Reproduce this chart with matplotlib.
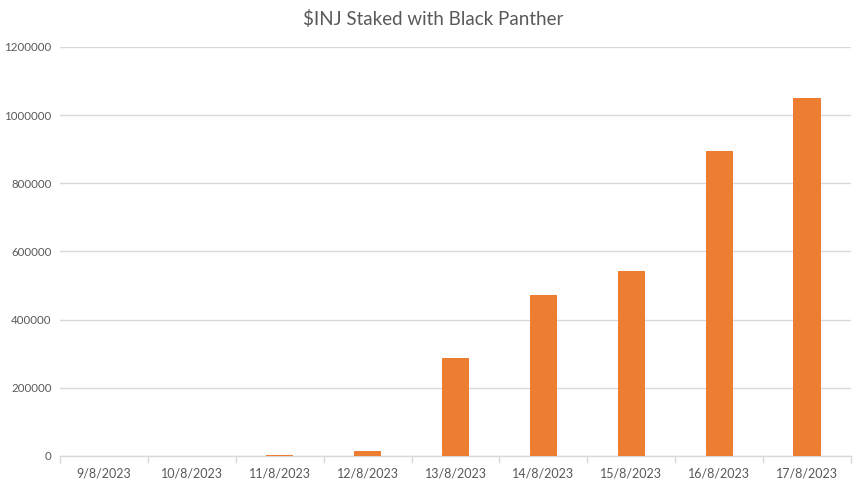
import numpy as np
import matplotlib.pyplot as plt
from matplotlib.ticker import FixedLocator

# --- DATA ---
dates = ["9/8/2023", "10/8/2023", "11/8/2023", "12/8/2023", "13/8/2023",
         "14/8/2023", "15/8/2023", "16/8/2023", "17/8/2023"]
staked = [0, 0, 3000, 15000, 287500, 472500, 543000, 895000, 1050000]

BAR_COLOR = "#ED7D31"
TEXT_COLOR = "#595959"
GRID_COLOR = "#D9D9D9"

plt.rcParams['font.family'] = ['Lato', 'DejaVu Sans']

fig = plt.figure(figsize=(8.66, 4.87), dpi=100)
ax = fig.add_axes([0.0693, 0.0637, 0.9134, 0.8398])

x = np.arange(len(dates))
ax.bar(x, staked, width=0.31, color=BAR_COLOR, zorder=3)

ax.set_xlim(-0.5, len(dates) - 0.5)
ax.set_ylim(0, 1200000)
ax.set_yticks(np.arange(0, 1200001, 200000))
ax.set_yticklabels([str(v) for v in range(0, 1200001, 200000)])
ax.set_xticks(x)
ax.set_xticklabels(dates)

# category separators below axis
ax.xaxis.set_minor_locator(FixedLocator(np.arange(-0.5, len(dates), 1.0)))
ax.tick_params(axis='x', which='major', length=0, pad=8, labelsize=9, labelcolor=TEXT_COLOR)
ax.tick_params(axis='x', which='minor', length=5, color=GRID_COLOR, width=1)
ax.tick_params(axis='y', length=0, pad=6, labelsize=8.3, labelcolor=TEXT_COLOR)

ax.grid(axis='y', color=GRID_COLOR, linewidth=1, zorder=0)
for side in ['top', 'right', 'left']:
    ax.spines[side].set_visible(False)
ax.spines['bottom'].set_color(GRID_COLOR)
ax.spines['bottom'].set_linewidth(1)

fig.text(0.5, 0.962, "$INJ Staked with Black Panther", ha='center', va='center',
         fontsize=13.5, color=TEXT_COLOR)

plt.savefig("out.png", dpi=100)
